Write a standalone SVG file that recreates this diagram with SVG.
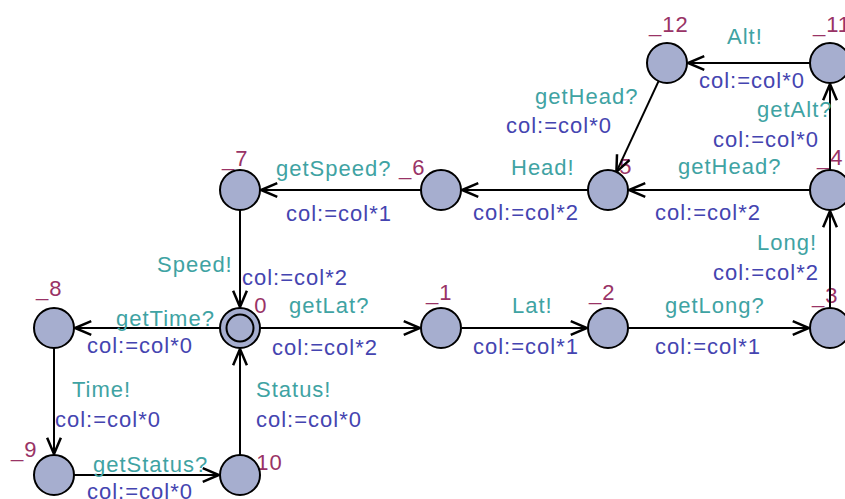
<svg xmlns="http://www.w3.org/2000/svg" width="845" height="499" viewBox="0 0 845 499">
<style>
text{font-family:"Liberation Sans",Arial,sans-serif;font-size:22px;letter-spacing:1px}
.nm{fill:#993366}
.sy{fill:#3fa3a3}
.as{fill:#4444b0}
.loc{fill:#a6aecf;stroke:#000;stroke-width:2}
.e{stroke:#000;stroke-width:2;fill:none}
</style>
<defs>
<marker id="ar" markerUnits="userSpaceOnUse" markerWidth="20" markerHeight="20" viewBox="-14 -8 16 16" refX="0" refY="0" orient="auto">
<path d="M-13,-5.5 L0,0 L-13,5.5" fill="none" stroke="#000" stroke-width="2"/>
</marker>
</defs>
<rect width="845" height="499" fill="#fff"/>
<g id="names">
<text class="nm" x="649" y="32">_12</text>
<text class="nm" x="813" y="32">_11</text>
<text class="nm" x="817" y="165">_4</text>
<text class="nm" x="606" y="174">_5</text>
<text class="nm" x="399" y="175">_6</text>
<text class="nm" x="222" y="166">_7</text>
<text class="nm" x="241" y="313">_0</text>
<text class="nm" x="426" y="300">_1</text>
<text class="nm" x="589" y="300">_2</text>
<text class="nm" x="812" y="303">_3</text>
<text class="nm" x="36" y="296">_8</text>
<text class="nm" x="11" y="457">_9</text>
<text class="nm" x="243" y="470">_10</text>
</g>
<g id="connectors">
<line class="e" x1="810" y1="63" x2="688" y2="63" marker-end="url(#ar)"/>
<line class="e" x1="658.6" y1="81.1" x2="616.4" y2="171.9" marker-end="url(#ar)"/>
<line class="e" x1="830" y1="170" x2="830" y2="84" marker-end="url(#ar)"/>
<line class="e" x1="810" y1="190" x2="629" y2="190" marker-end="url(#ar)"/>
<line class="e" x1="830" y1="308" x2="830" y2="211" marker-end="url(#ar)"/>
<line class="e" x1="588" y1="190" x2="462" y2="190" marker-end="url(#ar)"/>
<line class="e" x1="421" y1="190" x2="261" y2="190" marker-end="url(#ar)"/>
<line class="e" x1="240" y1="210" x2="240" y2="307" marker-end="url(#ar)"/>
<line class="e" x1="260" y1="328" x2="420" y2="328" marker-end="url(#ar)"/>
<line class="e" x1="462" y1="328" x2="587" y2="328" marker-end="url(#ar)"/>
<line class="e" x1="628" y1="328" x2="809" y2="328" marker-end="url(#ar)"/>
<line class="e" x1="220" y1="328" x2="75" y2="328" marker-end="url(#ar)"/>
<line class="e" x1="54" y1="348" x2="54" y2="454" marker-end="url(#ar)"/>
<line class="e" x1="74" y1="475" x2="219" y2="475" marker-end="url(#ar)"/>
<line class="e" x1="240" y1="455" x2="240" y2="349" marker-end="url(#ar)"/>
<text class="sy" x="727" y="44">Alt!</text>
<text class="as" x="699" y="88">col:=col*0</text>
<text class="sy" x="535" y="104">getHead?</text>
<text class="as" x="506" y="133">col:=col*0</text>
<text class="sy" x="757" y="117">getAlt?</text>
<text class="as" x="713" y="147">col:=col*0</text>
<text class="sy" x="678" y="174">getHead?</text>
<text class="as" x="655" y="220">col:=col*2</text>
<text class="sy" x="757" y="250">Long!</text>
<text class="as" x="713" y="280">col:=col*2</text>
<text class="sy" x="511" y="175">Head!</text>
<text class="as" x="473" y="220">col:=col*2</text>
<text class="sy" x="276" y="176">getSpeed?</text>
<text class="as" x="286" y="221">col:=col*1</text>
<text class="sy" x="157" y="272">Speed!</text>
<text class="as" x="242" y="285">col:=col*2</text>
<text class="sy" x="289" y="313">getLat?</text>
<text class="as" x="272" y="355">col:=col*2</text>
<text class="sy" x="512" y="313">Lat!</text>
<text class="as" x="473" y="354">col:=col*1</text>
<text class="sy" x="665" y="313">getLong?</text>
<text class="as" x="655" y="354">col:=col*1</text>
<text class="sy" x="116" y="326">getTime?</text>
<text class="as" x="87" y="353">col:=col*0</text>
<text class="sy" x="72" y="397">Time!</text>
<text class="as" x="55" y="427">col:=col*0</text>
<text class="sy" x="93" y="472">getStatus?</text>
<text class="as" x="87" y="499">col:=col*0</text>
<text class="sy" x="256" y="397">Status!</text>
<text class="as" x="256" y="427">col:=col*0</text>
</g>
<g id="n12"><circle class="loc" cx="667" cy="63" r="20"/></g>
<g id="n11"><circle class="loc" cx="830" cy="63" r="20"/></g>
<g id="n5"><circle class="loc" cx="608" cy="190" r="20"/></g>
<g id="n4"><circle class="loc" cx="830" cy="190" r="20"/></g>
<g id="n6"><circle class="loc" cx="441" cy="190" r="20"/></g>
<g id="n7"><circle class="loc" cx="240" cy="190" r="20"/></g>
<g id="n0"><circle class="loc" cx="240" cy="328" r="20"/><circle cx="240" cy="328" r="13.5" fill="none" stroke="#000" stroke-width="2"/></g>
<g id="n1"><circle class="loc" cx="441" cy="328" r="20"/></g>
<g id="n2"><circle class="loc" cx="608" cy="328" r="20"/></g>
<g id="n3"><circle class="loc" cx="830" cy="328" r="20"/></g>
<g id="n8"><circle class="loc" cx="54" cy="328" r="20"/></g>
<g id="n9"><circle class="loc" cx="54" cy="475" r="20"/></g>
<g id="n10"><circle class="loc" cx="240" cy="475" r="20"/></g>
</svg>
